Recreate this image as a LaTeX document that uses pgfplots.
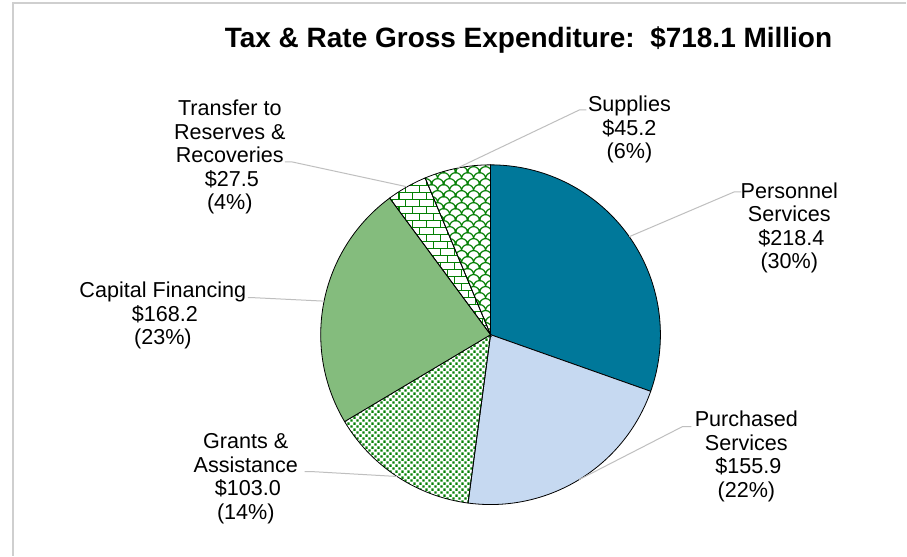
\documentclass[border=0pt]{standalone}
\usepackage{fontspec}
\setmainfont{Liberation Sans}
\usepackage{pgfplots}
\pgfplotsset{compat=1.18}
\usetikzlibrary{patterns}

\definecolor{cPers}{HTML}{00789A}
\definecolor{cPurch}{HTML}{C6D9F1}
\definecolor{cCap}{HTML}{84BC7D}
\definecolor{cPat}{HTML}{058005}
\definecolor{cLead}{HTML}{BFBFBF}
\definecolor{cFrame}{HTML}{CFCFCF}

% dotted pattern (Grants)
\pgfdeclarepatternformonly{gdots}{\pgfpoint{0pt}{0pt}}{\pgfpoint{6.4pt}{6.4pt}}{\pgfpoint{6.4pt}{6.4pt}}{%
  \pgfpathrectangle{\pgfpoint{0.35pt}{0.35pt}}{\pgfpoint{2.5pt}{2.5pt}}%
  \pgfpathrectangle{\pgfpoint{3.55pt}{3.55pt}}{\pgfpoint{2.5pt}{2.5pt}}%
  \pgfusepath{fill}}
% bricks pattern (Transfer)
\pgfdeclarepatternformonly{gbricks}{\pgfpoint{-1pt}{-1pt}}{\pgfpoint{15pt}{15pt}}{\pgfpoint{14pt}{14pt}}{%
  \pgfsetlinewidth{1.7pt}%
  \pgfpathmoveto{\pgfpoint{-1pt}{0pt}}\pgfpathlineto{\pgfpoint{15pt}{0pt}}%
  \pgfpathmoveto{\pgfpoint{-1pt}{7pt}}\pgfpathlineto{\pgfpoint{15pt}{7pt}}%
  \pgfpathmoveto{\pgfpoint{0pt}{0pt}}\pgfpathlineto{\pgfpoint{0pt}{7pt}}%
  \pgfpathmoveto{\pgfpoint{7pt}{7pt}}\pgfpathlineto{\pgfpoint{7pt}{14pt}}%
  \pgfusepath{stroke}}
% shingle / scale pattern (Supplies)
\pgfdeclarepatternformonly{gscales}{\pgfpoint{-1pt}{-1pt}}{\pgfpoint{13pt}{13pt}}{\pgfpoint{12pt}{12pt}}{%
  \pgfsetlinewidth{1.2pt}%
  \pgfpathmoveto{\pgfpoint{0pt}{0pt}}\pgfpatharc{180}{0}{6pt}%
  \pgfpathmoveto{\pgfpoint{-6pt}{6pt}}\pgfpatharc{180}{0}{6pt}%
  \pgfpathmoveto{\pgfpoint{6pt}{6pt}}\pgfpatharc{180}{0}{6pt}%
  \pgfpathmoveto{\pgfpoint{0pt}{12pt}}\pgfpatharc{180}{0}{6pt}%
  \pgfpathmoveto{\pgfpoint{-12pt}{0pt}}\pgfpatharc{180}{0}{6pt}%
  \pgfpathmoveto{\pgfpoint{12pt}{0pt}}\pgfpatharc{180}{0}{6pt}%
  \pgfusepath{stroke}}

% data (million $)
\def\vPers{218.4}
\def\vPurch{155.9}
\def\vGrant{103.0}
\def\vCap{168.2}
\def\vTrans{27.5}
\def\vSupp{45.2}
\pgfmathsetmacro{\tot}{\vPers+\vPurch+\vGrant+\vCap+\vTrans+\vSupp}
\pgfmathsetmacro{\aA}{90}
\pgfmathsetmacro{\aB}{\aA-360*(\vPers/\tot)}
\pgfmathsetmacro{\aC}{\aB-360*(\vPurch/\tot)}
\pgfmathsetmacro{\aD}{\aC-360*(\vGrant/\tot)}
\pgfmathsetmacro{\aE}{\aD-360*(\vCap/\tot)}
\pgfmathsetmacro{\aF}{\aE-360*(\vTrans/\tot)}
\pgfmathsetmacro{\aG}{\aF-360*(\vSupp/\tot)}

\newcommand{\lblfont}{\fontsize{21.6}{23.5}\selectfont}
\newcommand{\lbl}[3]{\node[anchor=base,inner sep=0pt,font=\lblfont] at (axis cs:#1,#2) {#3};}

\begin{document}
\begin{tikzpicture}
\begin{axis}[x=1pt,y=1pt,xmin=0,xmax=907,ymin=0,ymax=556,
  hide axis,scale only axis,clip=false]
% background
\addplot[draw=none,fill=white] coordinates {(0,0) (907,0) (907,556) (0,556)} -- cycle;
% frame
\addplot[draw=cFrame,line width=1.6pt] coordinates {(13,0) (13,553) (907,553)};
% pie slices
\def\cx{491}\def\cy{221}\def\rr{170}
\addplot[draw=black,line width=0.8pt,fill=cPers,domain=\aB:\aA,samples=120,variable=\t]
  ({\cx+\rr*cos(\t)},{\cy+\rr*sin(\t)}) -- (axis cs:\cx,\cy) -- cycle;
\addplot[draw=black,line width=0.8pt,fill=cPurch,domain=\aC:\aB,samples=100,variable=\t]
  ({\cx+\rr*cos(\t)},{\cy+\rr*sin(\t)}) -- (axis cs:\cx,\cy) -- cycle;
\addplot[draw=black,line width=0.8pt,pattern=gdots,pattern color=cPat,domain=\aD:\aC,samples=80,variable=\t]
  ({\cx+\rr*cos(\t)},{\cy+\rr*sin(\t)}) -- (axis cs:\cx,\cy) -- cycle;
\addplot[draw=black,line width=0.8pt,fill=cCap,domain=\aE:\aD,samples=100,variable=\t]
  ({\cx+\rr*cos(\t)},{\cy+\rr*sin(\t)}) -- (axis cs:\cx,\cy) -- cycle;
\addplot[draw=black,line width=0.8pt,pattern=gbricks,pattern color=cPat,domain=\aF:\aE,samples=30,variable=\t]
  ({\cx+\rr*cos(\t)},{\cy+\rr*sin(\t)}) -- (axis cs:\cx,\cy) -- cycle;
\addplot[draw=black,line width=0.8pt,pattern=gscales,pattern color=cPat,domain=\aG:\aF,samples=40,variable=\t]
  ({\cx+\rr*cos(\t)},{\cy+\rr*sin(\t)}) -- (axis cs:\cx,\cy) -- cycle;
% leader lines
\addplot[draw=cLead,line width=1pt] coordinates {(457.6,387.7) (580,446) (587,446)};
\addplot[draw=cLead,line width=1pt] coordinates {(629.8,319.1) (735,364) (742,364)};
\addplot[draw=cLead,line width=1pt] coordinates {(579.7,76) (683,129) (692,129)};
\addplot[draw=cLead,line width=1pt] coordinates {(305,84) (312,84) (397.4,79.1)};
\addplot[draw=cLead,line width=1pt] coordinates {(248,258) (255,258) (324.4,254.6)};
\addplot[draw=cLead,line width=1pt] coordinates {(285,394) (292,394) (407.2,369.1)};
% title
\node[anchor=base,inner sep=0pt,font=\fontsize{28}{32}\selectfont\bfseries] at (axis cs:529,508) {Tax \& Rate Gross Expenditure:~~\$718.1 Million};
% labels
\lbl{630}{444}{Supplies}
\lbl{630}{420.5}{\$45.2}
\lbl{630}{397}{(6\%)}
\lbl{790}{357.5}{Personnel}
\lbl{790}{334}{Services}
\lbl{792}{310.5}{\$218.4}
\lbl{790}{287}{(30\%)}
\lbl{747}{129}{Purchased}
\lbl{747}{105.5}{Services}
\lbl{749}{82}{\$155.9}
\lbl{747}{58.5}{(22\%)}
\lbl{246}{107}{Grants \&}
\lbl{246}{83.5}{Assistance}
\lbl{248}{60}{\$103.0}
\lbl{246}{36.5}{(14\%)}
\lbl{163}{258}{Capital Financing}
\lbl{165}{234.5}{\$168.2}
\lbl{163}{211}{(23\%)}
\lbl{230}{440}{Transfer to}
\lbl{230}{416.5}{Reserves \&}
\lbl{230}{393}{Recoveries}
\lbl{232}{369.5}{\$27.5}
\lbl{230}{346}{(4\%)}
\end{axis}
\end{tikzpicture}
\end{document}
